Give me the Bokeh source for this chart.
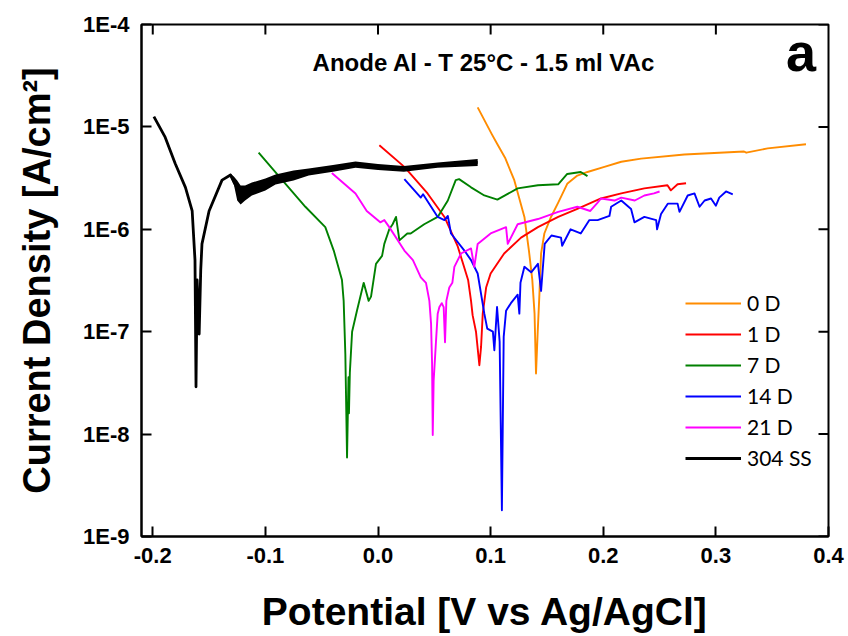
from bokeh.plotting import figure
from bokeh.models import (Range1d, FixedTicker, Legend, LegendItem, Label, CustomJSTickFormatter)
from bokeh.embed import file_html
from bokeh.resources import INLINE

# ---------------- data (potential V vs Ag/AgCl, current density A/cm2) ----------------
d0_x = [0.0885, 0.101, 0.106, 0.1128, 0.121, 0.130, 0.134, 0.137, 0.139, 0.1403, 0.1418, 0.1433,
        0.1448, 0.1477, 0.1536, 0.160, 0.168, 0.177, 0.186, 0.201, 0.216, 0.2336, 0.272,
        0.325, 0.327, 0.346, 0.380]
d0_y = [1.55e-5, 8.5e-6, 6.76e-6, 5.0e-6, 3.02e-6, 1.32e-6, 6.2e-7, 3.2e-7, 1.5e-7, 3.9e-8, 1.0e-7, 2.3e-7,
        5.8e-7, 9.1e-7, 1.32e-6, 1.82e-6, 2.78e-6, 3.35e-6, 3.63e-6, 4.07e-6, 4.57e-6, 4.90e-6, 5.37e-6,
        5.75e-6, 5.6e-6, 6.17e-6, 6.76e-6]

d1_x = [0.0012, 0.0234, 0.044, 0.059, 0.0708, 0.080, 0.0826, 0.084, 0.087, 0.090, 0.0915, 0.093,
        0.096, 0.100, 0.112, 0.127, 0.142, 0.160, 0.177, 0.198, 0.216, 0.2365, 0.257, 0.260,
        0.266, 0.2735]
d1_y = [6.61e-6, 4.07e-6, 2.24e-6, 1.32e-6, 6.8e-7, 3.2e-7, 2.0e-7, 1.45e-7, 1.0e-7, 4.7e-8, 7.1e-8, 1.5e-7,
        2.7e-7, 3.7e-7, 5.8e-7, 8.3e-7, 1.05e-6, 1.32e-6, 1.58e-6, 2.0e-6, 2.24e-6, 2.51e-6, 2.69e-6, 2.4e-6,
        2.75e-6, 2.82e-6]

d7_x = [-0.106, -0.085, -0.0645, -0.0468, -0.0393, -0.032, -0.0305, -0.029, -0.0275, -0.0262, -0.0258,
        -0.025, -0.023, -0.0187, -0.0127, -0.0083, -0.0062, -0.0018, 0.0036, 0.0056, 0.010, 0.013,
        0.016, 0.019, 0.026, 0.029, 0.041, 0.053, 0.062, 0.069, 0.072, 0.0826, 0.0944, 0.106, 0.124,
        0.142, 0.160, 0.168, 0.180, 0.186]
d7_y = [5.62e-6, 3.02e-6, 1.66e-6, 1.05e-6, 6.2e-7, 3.2e-7, 2.0e-7, 6.0e-8, 5.9e-9, 3.6e-8, 1.6e-8,
        4.0e-8, 1.0e-7, 1.6e-7, 3.0e-7, 2.0e-7, 2.2e-7, 4.6e-7, 5.5e-7, 7.2e-7, 1.0e-6, 1.12e-6,
        1.32e-6, 7.8e-7, 9.1e-7, 9.1e-7, 1.12e-6, 1.32e-6, 1.91e-6, 3.02e-6, 3.09e-6, 2.57e-6, 2.14e-6, 1.95e-6, 2.51e-6,
        2.69e-6, 2.75e-6, 3.47e-6, 3.63e-6, 3.31e-6]

d14_x = [0.0234, 0.038, 0.040, 0.053, 0.059, 0.062, 0.0648, 0.0767, 0.0826, 0.0885, 0.0944, 0.097,
         0.102, 0.1033, 0.1057, 0.108, 0.110, 0.1116, 0.1137, 0.118, 0.124, 0.1255, 0.1265, 0.130,
         0.136, 0.142, 0.1448, 0.148, 0.154, 0.1625, 0.1635, 0.171, 0.180, 0.1877, 0.195, 0.2055,
         0.207, 0.216, 0.2247, 0.2277, 0.2365, 0.247, 0.2478, 0.2513, 0.2573, 0.266, 0.2677, 0.275,
         0.281, 0.2855, 0.290, 0.2957, 0.300, 0.303, 0.309, 0.315]
d14_y = [3.09e-6, 2.04e-6, 2.2e-6, 1.32e-6, 1.23e-6, 1.35e-6, 9.1e-7, 6.2e-7, 5.0e-7, 3.7e-7, 1.5e-7, 1.07e-7,
         1.0e-7, 6.6e-8, 1.74e-7, 8.0e-8, 1.8e-9, 8.9e-8, 1.6e-7, 1.9e-7, 2.3e-7, 1.5e-7, 3.0e-7, 4.3e-7,
         3.8e-7, 4.6e-7, 2.5e-7, 7.2e-7, 8.7e-7, 8.3e-7, 6.9e-7, 1.0e-6, 9.1e-7, 1.23e-6, 1.23e-6, 1.35e-6,
         1.66e-6, 1.91e-6, 1.58e-6, 1.17e-6, 1.32e-6, 1.23e-6, 1.0e-6, 1.41e-6, 1.78e-6, 1.78e-6, 1.48e-6, 2.14e-6,
         2.24e-6, 1.66e-6, 1.91e-6, 2.0e-6, 1.70e-6, 2.04e-6, 2.34e-6, 2.19e-6]

d21_x = [-0.041, -0.030, -0.020, -0.010, 0.002, 0.0056, 0.010, 0.0234, 0.031, 0.038, 0.0426, 0.0456,
         0.0471, 0.048, 0.0486, 0.0494, 0.0515, 0.053, 0.0545, 0.0566, 0.0583, 0.0595, 0.0607, 0.0633,
         0.066, 0.0678, 0.0737, 0.0826, 0.0855, 0.0885, 0.100, 0.1137, 0.1152, 0.124, 0.142, 0.160,
         0.177, 0.1885, 0.195, 0.198, 0.210, 0.216, 0.228, 0.2365, 0.245, 0.250]
d21_y = [3.55e-6, 2.78e-6, 2.24e-6, 1.51e-6, 1.17e-6, 1.23e-6, 1.05e-6, 6.2e-7, 5.0e-7, 3.4e-7, 3.0e-7, 2.0e-7,
         1.2e-7, 4.9e-8, 9.8e-9, 3.3e-8, 8.1e-8, 1.5e-7, 1.74e-7, 1.9e-7, 1.74e-7, 7.9e-8, 2.0e-7, 2.7e-7,
         3.0e-7, 4.3e-7, 5.8e-7, 6.5e-7, 4.3e-7, 7.2e-7, 9.1e-7, 1.05e-6, 7.2e-7, 1.12e-6, 1.26e-6, 1.48e-6,
         1.66e-6, 1.51e-6, 1.82e-6, 2.0e-6, 1.91e-6, 2.04e-6, 1.91e-6, 2.14e-6, 2.24e-6, 2.34e-6]

ss_x = [-0.199, -0.189, -0.180, -0.171, -0.165, -0.1625, -0.1616, -0.1606, -0.1588, -0.1574, -0.1563,
        -0.150, -0.1385, -0.131, -0.128, -0.122, -0.112, -0.091, -0.0615, -0.040, -0.020, 0.0036,
        0.023, 0.053, 0.0885]
ss_y = [1.26e-5, 7.94e-6, 4.37e-6, 2.57e-6, 1.51e-6, 5.0e-7, 2.9e-8, 3.2e-7, 9.5e-8, 4.0e-7, 7.2e-7,
        1.51e-6, 3.02e-6, 3.39e-6, 2.9e-6, 2.2e-6, 2.5e-6, 3.1e-6, 3.6e-6, 3.9e-6, 4.3e-6, 4.05e-6,
        3.9e-6, 4.25e-6, 4.5e-6]
# envelope of the noisy 304 SS signal
ss_band_x = [-0.131, -0.128, -0.125, -0.122, -0.118, -0.112, -0.100, -0.091, -0.075, -0.0615, -0.040,
             -0.020, 0.0, 0.023, 0.053, 0.0885]
ss_band_hi = [3.51e-6, 3.28e-6, 3.0e-6, 2.68e-6, 2.68e-6, 2.86e-6, 3.13e-6, 3.43e-6, 3.75e-6, 3.93e-6, 4.25e-6,
              4.60e-6, 4.35e-6, 4.15e-6, 4.50e-6, 4.85e-6]
ss_band_lo = [3.21e-6, 2.74e-6, 1.91e-6, 1.75e-6, 1.91e-6, 2.14e-6, 2.39e-6, 2.74e-6, 3.0e-6, 3.35e-6, 3.65e-6,
              4.00e-6, 3.80e-6, 3.65e-6, 4.00e-6, 4.15e-6]

labels = ["0 D", "1 D", "7 D", "14 D", "21 D", "304 SS"]
colors = ["#FF8C00", "#FF0000", "#008000", "#0000FF", "#FF00FF", "#000000"]
x_ticks = [-0.2, -0.1, 0.0, 0.1, 0.2, 0.3, 0.4]
y_ticks = [1e-9, 1e-8, 1e-7, 1e-6, 1e-5, 1e-4]

FONT = "Liberation Sans"
X_MIN, X_MAX = -0.21, 0.40
Y_MIN, Y_MAX = 1e-9, 1e-4

p = figure(width=848, height=636, y_axis_type="log",
           x_range=Range1d(X_MIN, X_MAX), y_range=Range1d(Y_MIN, Y_MAX),
           output_backend="svg", toolbar_location=None,
           min_border_left=141, min_border_right=20, min_border_top=24, min_border_bottom=100)
p.grid.visible = False
p.outline_line_color = "black"
p.outline_line_width = 2
p.background_fill_color = "white"
p.border_fill_color = "white"

xa = p.xaxis[0]
ya = p.yaxis[0]
for ax in (xa, ya):
    ax.axis_line_width = 2
    ax.major_tick_in = 10
    ax.major_tick_out = 0
    ax.major_tick_line_width = 2
    ax.minor_tick_in = 0
    ax.minor_tick_out = 0
    ax.major_label_text_font = FONT
    ax.major_label_text_font_style = "bold"
    ax.major_label_text_color = "black"
    ax.major_label_text_font_size = "22px"
    ax.axis_label_text_font = FONT
    ax.axis_label_text_font_style = "bold"
    ax.axis_label_text_color = "black"
xa.ticker = FixedTicker(ticks=x_ticks)
ya.ticker = FixedTicker(ticks=y_ticks)
xa.formatter = CustomJSTickFormatter(code="return tick.toFixed(1);")
ya.formatter = CustomJSTickFormatter(code="return '1E' + Math.round(Math.log10(tick));")
xa.major_label_standoff = 11
ya.major_label_standoff = 12
xa.axis_label = "Potential [V vs Ag/AgCl]"
ya.axis_label = "Current Density [A/cm\u00b2]"
xa.axis_label_text_font_size = "39px"
ya.axis_label_text_font_size = "38px"
xa.axis_label_standoff = 24
ya.axis_label_standoff = 22

# mirrored inward ticks on the top and right frame edges (10 px long)
dx = (X_MAX - X_MIN) * 10 / 687.0
dy = 10 ** (10 / 102.4)
p.segment(x0=x_ticks[:-1], y0=[Y_MAX] * (len(x_ticks) - 1), x1=x_ticks[:-1],
          y1=[Y_MAX / dy] * (len(x_ticks) - 1), line_color="black", line_width=2)
p.segment(x0=[X_MAX] * len(y_ticks), y0=y_ticks, x1=[X_MAX - dx] * len(y_ticks), y1=y_ticks,
          line_color="black", line_width=2)

series = [(d0_x, d0_y), (d1_x, d1_y), (d7_x, d7_y), (d14_x, d14_y), (d21_x, d21_y)]
renderers = []
for (xs, ys), c in zip(series, colors[:5]):
    r = p.line(xs, ys, line_color=c, line_width=1.9, line_join="round")
    renderers.append(r)

p.varea(x=ss_band_x, y1=ss_band_lo, y2=ss_band_hi, fill_color="black")
r_ss = p.line(ss_x, ss_y, line_color="black", line_width=2.8, line_join="round")
renderers.append(r_ss)

legend = Legend(items=[LegendItem(label=l, renderers=[r]) for l, r in zip(labels, renderers)],
                location=(544, 66), glyph_width=56, glyph_height=20, label_height=20,
                spacing=6, padding=0, margin=0, label_standoff=6,
                border_line_alpha=0, background_fill_alpha=0,
                label_text_font="Lato", label_text_font_size="21px", label_text_color="black")
p.add_layout(legend)

p.add_layout(Label(x=0.094, y=4.26e-5, text="Anode Al - T 25\u00b0C - 1.5 ml VAc",
                   text_align="center", text_baseline="alphabetic",
                   text_font=FONT, text_font_style="bold", text_font_size="24px", text_color="black"))
p.add_layout(Label(x=0.3757, y=5.33e-5, text="a", text_align="center", text_baseline="alphabetic",
                   text_font=FONT, text_font_style="bold", text_font_size="54px", text_color="black"))

open("out.html", "w").write(file_html(p, INLINE))
